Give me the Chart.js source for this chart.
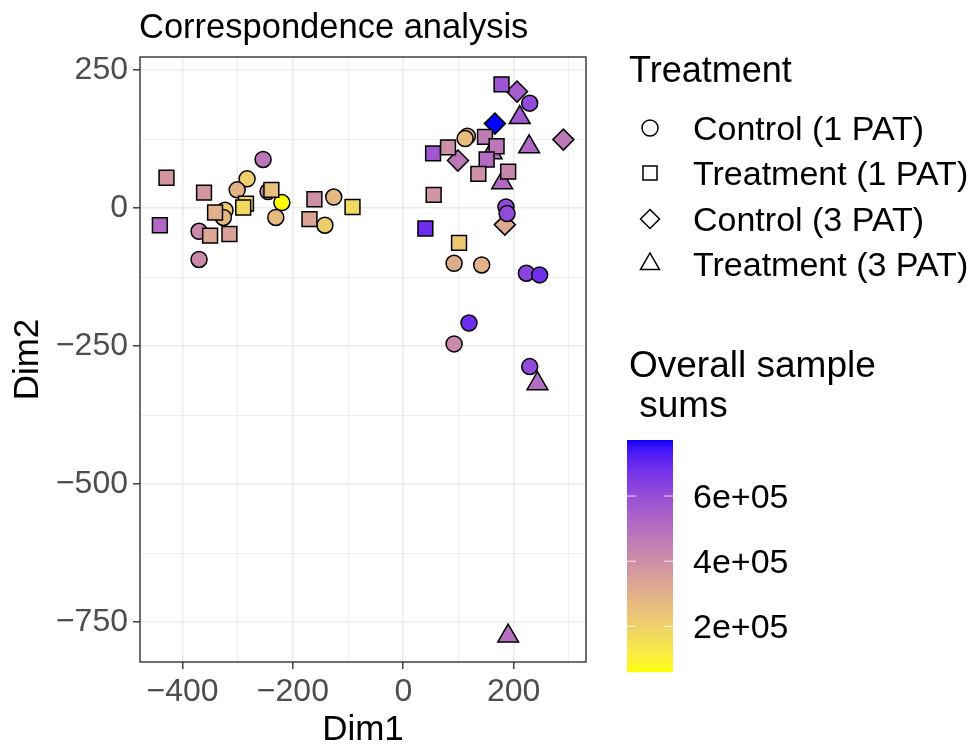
<!DOCTYPE html>
<html>
<head>
<meta charset="utf-8">
<script src="https://cdn.jsdelivr.net/npm/chart.js@4/dist/chart.umd.min.js"></script>
<style>html,body{margin:0;padding:0;background:#fff}</style>
</head>
<body>
<canvas id="caChart" width="971" height="746"></canvas>
<script>
const FONT = '"Liberation Sans", Arial, Helvetica, sans-serif';

// Control (1 PAT) - circles
const ctl1X   = [-254, -283, -301, -245, -220, -323, -326, -370, -370, -231, -126, -142, 229, 116, 112, 186, 188, 92, 142, 223, 247, 119, 92, 229];
const ctl1Y   = [88, 53, 33, 30, 10, -4, -17, -42, -93, -17, 20, -31, 190, 130, 126, 2, -10, -100, -103, -118, -121, -208, -246, -287];
const ctl1Sum = [480e3, 205e3, 290e3, 440e3, 60e3, 215e3, 280e3, 420e3, 420e3, 265e3, 275e3, 215e3, 610e3, 300e3, 260e3, 610e3, 610e3, 310e3, 295e3, 630e3, 685e3, 690e3, 420e3, 610e3];

// Treatment (1 PAT) - squares
const trt1X   = [-441, -429, -361, -239, -285, -290, -341, -350, -315, -161, -92, -170, 178, 148, 169, 54, 81, 151, 136, 190, 55, 40, 101];
const trt1Y   = [-31, 55, 28, 33, 8, 1, -8, -50, -47, 16, 2, -20, 224, 129, 112, 99, 110, 88, 62, 66, 24, -37, -63];
const trt1Sum = [520e3, 380e3, 380e3, 255e3, 190e3, 175e3, 300e3, 330e3, 350e3, 400e3, 175e3, 340e3, 580e3, 460e3, 480e3, 570e3, 400e3, 510e3, 400e3, 430e3, 385e3, 690e3, 225e3];

// Control (3 PAT) - diamonds
const ctl3X   = [206, 166, 290, 99, 184];
const ctl3Y   = [211, 153, 124, 86, -30];
const ctl3Sum = [555e3, 772e3, 470e3, 475e3, 320e3];

// Treatment (3 PAT) - triangles
const trt3X   = [211, 228, 160, 179, 243, 190];
const trt3Y   = [164, 111, 100, 46, -318, -775];
const trt3Sum = [565e3, 520e3, 500e3, 520e3, 505e3, 500e3];

const groupLabels = ['Control (1 PAT)', 'Treatment (1 PAT)', 'Control (3 PAT)', 'Treatment (3 PAT)'];
const xTickValues = [-400, -300, -200, -100, 0, 100, 200, 300];   // majors every 200, minors between
const yTickValues = [250, 125, 0, -125, -250, -375, -500, -625, -750];
const sumTicks = [2e5, 4e5, 6e5];
const sumTickLabels = ['2e+05', '4e+05', '6e+05'];
const sumMin = 60e3, sumMax = 772e3;

// --- Lab colour ramp (yellow -> blue), like ggplot's gradient ---
function hexToLab(hex) {
    let c = [1, 3, 5].map(i => parseInt(hex.substr(i, 2), 16) / 255)
        .map(v => v <= 0.04045 ? v / 12.92 : Math.pow((v + 0.055) / 1.055, 2.4));
    let X = (c[0] * 0.4124 + c[1] * 0.3576 + c[2] * 0.1805) / 0.95047;
    let Y = (c[0] * 0.2126 + c[1] * 0.7152 + c[2] * 0.0722);
    let Z = (c[0] * 0.0193 + c[1] * 0.1192 + c[2] * 0.9505) / 1.08883;
    const f = t => t > 0.008856 ? Math.cbrt(t) : 7.787 * t + 16 / 116;
    return [116 * f(Y) - 16, 500 * (f(X) - f(Y)), 200 * (f(Y) - f(Z))];
}
function labToRgb(lab) {
    let fy = (lab[0] + 16) / 116, fx = fy + lab[1] / 500, fz = fy - lab[2] / 200;
    const fi = t => t * t * t > 0.008856 ? t * t * t : (t - 16 / 116) / 7.787;
    let X = fi(fx) * 0.95047, Y = fi(fy), Z = fi(fz) * 1.08883;
    let r = X * 3.2406 + Y * -1.5372 + Z * -0.4986;
    let g = X * -0.9689 + Y * 1.8758 + Z * 0.0415;
    let b = X * 0.0557 + Y * -0.2040 + Z * 1.0570;
    return [r, g, b].map(v => {
        v = v <= 0.0031308 ? 12.92 * v : 1.055 * Math.pow(v, 1 / 2.4) - 0.055;
        return Math.round(Math.min(1, Math.max(0, v)) * 255);
    });
}
const labLow = hexToLab('#FFFF00');
const labHigh = hexToLab('#0000FF');
function sumColor(v) {
    const t = Math.min(1, Math.max(0, (v - sumMin) / (sumMax - sumMin)));
    const rgb = labToRgb(labLow.map((l, i) => l + (labHigh[i] - l) * t));
    return 'rgb(' + rgb.join(',') + ')';
}

function makeDataset(label, xs, ys, sums, style, radius, order) {
    return {
        label: label,
        data: xs.map((x, i) => ({ x: x, y: ys[i] })),
        pointStyle: style,
        pointRadius: radius,
        pointHoverRadius: radius,
        pointBackgroundColor: sums.map(sumColor),
        pointBorderColor: '#000000',
        pointBorderWidth: 1.5,
        showLine: false,
        order: order
    };
}

function fmt(v) {
    return v < 0 ? '\u2212' + Math.abs(v) : String(v);
}

function drawShape(ctx, style, x, y, r) {
    ctx.beginPath();
    if (style === 'circle') {
        ctx.arc(x, y, r, 0, Math.PI * 2);
    } else if (style === 'rect') {
        ctx.rect(x - r, y - r, 2 * r, 2 * r);
    } else if (style === 'rectRot') {
        ctx.moveTo(x, y - r); ctx.lineTo(x + r, y); ctx.lineTo(x, y + r); ctx.lineTo(x - r, y);
        ctx.closePath();
    } else {
        ctx.moveTo(x, y - r); ctx.lineTo(x + r * 0.866, y + r * 0.5); ctx.lineTo(x - r * 0.866, y + r * 0.5);
        ctx.closePath();
    }
    ctx.stroke();
}

const decorPlugin = {
    id: 'decor',
    afterDraw(chart) {
        const ctx = chart.ctx;
        const a = chart.chartArea;
        ctx.save();
        // panel border
        ctx.strokeStyle = '#333333';
        ctx.lineWidth = 1.4;
        ctx.strokeRect(a.left, a.top, a.right - a.left, a.bottom - a.top);

        ctx.fillStyle = '#000000';
        ctx.textAlign = 'left';
        ctx.textBaseline = 'alphabetic';
        // title
        ctx.font = '34.5px ' + FONT;
        ctx.fillText('Correspondence analysis', a.left - 1, 38);
        // axis titles
        ctx.font = '35px ' + FONT;
        ctx.textAlign = 'center';
        ctx.fillText('Dim1', (a.left + a.right) / 2, 740);
        ctx.save();
        ctx.translate(38, (a.top + a.bottom) / 2);
        ctx.rotate(-Math.PI / 2);
        ctx.fillText('Dim2', 0, 0);
        ctx.restore();

        // shape legend
        ctx.textAlign = 'left';
        ctx.font = '36px ' + FONT;
        ctx.fillText('Treatment', 629, 82);
        const styles = ['circle', 'rect', 'rectRot', 'triangle'];
        const sizes = [8, 7, 9.5, 11];
        const rowY = [128, 173, 219, 264];
        ctx.font = '34px ' + FONT;
        ctx.strokeStyle = '#000000';
        ctx.lineWidth = 1.5;
        groupLabels.forEach((lab, i) => {
            drawShape(ctx, styles[i], 650, rowY[i], sizes[i]);
            ctx.fillText(lab, 693, rowY[i] + 12);
        });

        // colour bar legend
        ctx.font = '37px ' + FONT;
        ctx.fillText('Overall sample', 629, 377);
        ctx.fillText(' sums', 629, 417);
        const bx = 627, bw = 46, by = 440, bh = 232;
        for (let k = 0; k < bh; k++) {
            const v = sumMax - (k + 0.5) / bh * (sumMax - sumMin);
            ctx.fillStyle = sumColor(v);
            ctx.fillRect(bx, by + k, bw, 1.2);
        }
        ctx.strokeStyle = 'rgba(255,255,255,0.8)';
        ctx.lineWidth = 1;
        ctx.font = '34px ' + FONT;
        sumTicks.forEach((t, i) => {
            const ty = by + (sumMax - t) / (sumMax - sumMin) * bh;
            ctx.beginPath();
            ctx.moveTo(bx, ty); ctx.lineTo(bx + 9, ty);
            ctx.moveTo(bx + bw - 9, ty); ctx.lineTo(bx + bw, ty);
            ctx.stroke();
            ctx.fillStyle = '#000000';
            ctx.fillText(sumTickLabels[i], 693, ty + 12);
        });
        ctx.restore();
    }
};

const gridColor = '#EBEBEB';

new Chart(document.getElementById('caChart').getContext('2d'), {
    type: 'scatter',
    data: {
        datasets: [
            makeDataset(groupLabels[2], ctl3X, ctl3Y, ctl3Sum, 'rectRot', 10.5, 4),
            makeDataset(groupLabels[0], ctl1X, ctl1Y, ctl1Sum, 'circle', 8, 3),
            makeDataset(groupLabels[3], trt3X, trt3Y, trt3Sum, 'triangle', 12, 2),
            makeDataset(groupLabels[1], trt1X, trt1Y, trt1Sum, 'rect', 10.5, 1)
        ]
    },
    options: {
        responsive: false,
        animation: false,
        devicePixelRatio: 1,
        layout: { padding: { left: 0, top: 57, right: 385, bottom: 0 } },
        plugins: {
            legend: { display: false },
            tooltip: { enabled: false }
        },
        scales: {
            x: {
                type: 'linear',
                min: -477,
                max: 331,
                afterFit(scale) { scale.height = 84; },
                afterBuildTicks(scale) { scale.ticks = xTickValues.map(v => ({ value: v })); },
                border: { display: false },
                grid: {
                    color: gridColor,
                    lineWidth: c => (c.tick && c.tick.value % 200 === 0) ? 1.6 : 0.8,
                    tickColor: c => (c.tick && c.tick.value % 200 === 0) ? '#333333' : 'rgba(0,0,0,0)',
                    tickWidth: 1.4,
                    tickLength: 7
                },
                ticks: {
                    autoSkip: false,
                    maxRotation: 0,
                    padding: 4,
                    color: '#4D4D4D',
                    font: { family: FONT, size: 32 },
                    callback: v => v % 200 === 0 ? fmt(v) : ''
                }
            },
            y: {
                type: 'linear',
                min: -822,
                max: 273.6,
                afterFit(scale) { scale.width = 140; },
                afterBuildTicks(scale) { scale.ticks = yTickValues.map(v => ({ value: v })); },
                border: { display: false },
                grid: {
                    color: gridColor,
                    lineWidth: c => (c.tick && c.tick.value % 250 === 0) ? 1.6 : 0.8,
                    tickColor: c => (c.tick && c.tick.value % 250 === 0) ? '#333333' : 'rgba(0,0,0,0)',
                    tickWidth: 1.4,
                    tickLength: 7
                },
                ticks: {
                    autoSkip: false,
                    padding: 5,
                    color: '#4D4D4D',
                    font: { family: FONT, size: 32 },
                    callback: v => v % 250 === 0 ? fmt(v) : ''
                }
            }
        }
    },
    plugins: [decorPlugin]
});
</script>
</body>
</html>
